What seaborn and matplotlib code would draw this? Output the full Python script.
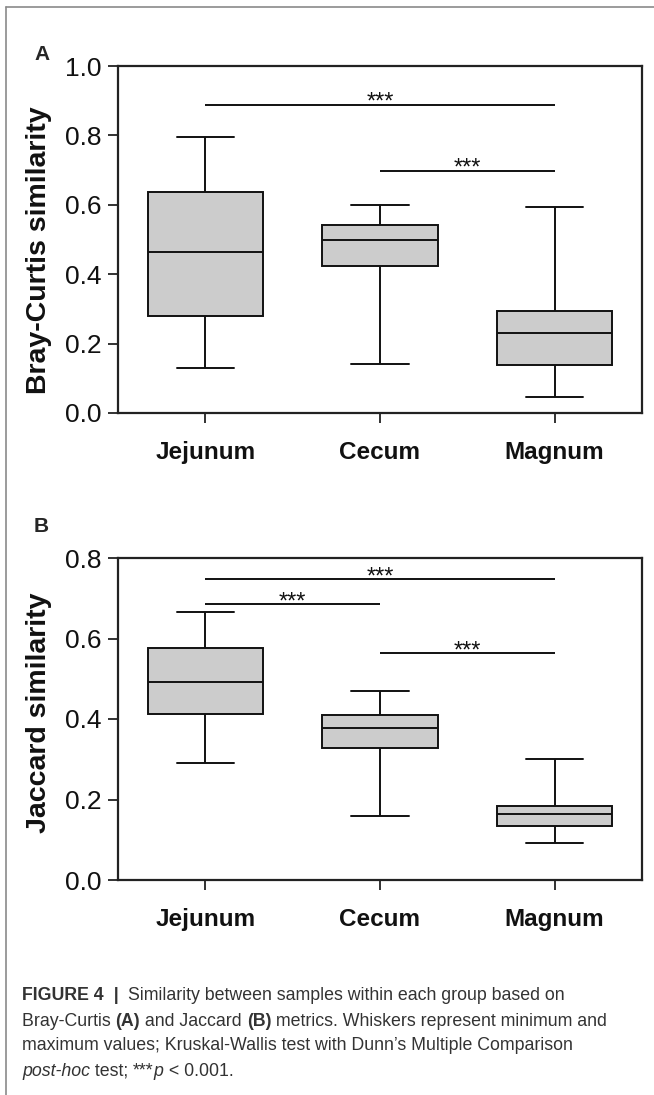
import matplotlib
matplotlib.use("Agg")
import matplotlib.pyplot as plt
import numpy as np
import pandas as pd
import seaborn as sns
from matplotlib.lines import Line2D

# groups
groups = ["Jejunum", "Cecum", "Magnum"]

# five-number summaries (min, q1, median, q3, max)
bray_jejunum = [0.13, 0.28, 0.465, 0.638, 0.795]
bray_cecum = [0.14, 0.425, 0.498, 0.543, 0.60]
bray_magnum = [0.045, 0.138, 0.23, 0.293, 0.593]

jac_jejunum = [0.29, 0.412, 0.492, 0.577, 0.667]
jac_cecum = [0.16, 0.328, 0.378, 0.41, 0.47]
jac_magnum = [0.092, 0.133, 0.163, 0.185, 0.30]

# significance brackets: (group from, group to, height)
bray_sig = [(0, 2, 0.888), (1, 2, 0.698)]
jac_sig = [(0, 2, 0.748), (0, 1, 0.685), (1, 2, 0.563)]

bray_ticks = [0.0, 0.2, 0.4, 0.6, 0.8, 1.0]
jac_ticks = [0.0, 0.2, 0.4, 0.6, 0.8]

sns.set_style("ticks")
plt.rcParams["font.family"] = ["Liberation Sans", "DejaVu Sans"]

W, H = 654, 1095
fig = plt.figure(figsize=(W / 100, H / 100), dpi=100)


def px_axes(left, top, right, bottom):
    return fig.add_axes([left / W, 1 - bottom / H, (right - left) / W, (bottom - top) / H])


def long_df(vals):
    rows = []
    for g, v in zip(groups, vals):
        for x in v:
            rows.append({"group": g, "value": x})
    return pd.DataFrame(rows)


def panel(ax, vals, sig, ticks, ylabel, label_y):
    df = long_df(vals)
    sns.boxplot(data=df, x="group", y="value", order=groups, ax=ax,
                color="#cccccc", saturation=1, width=0.66, whis=(0, 100),
                linecolor="#111111", linewidth=1.4, showfliers=False)
    ax.set_ylim(ticks[0], ticks[-1])
    ax.set_xlim(-0.5, 2.5)
    ax.set_yticks(ticks)
    ax.set_yticklabels([f"{t:.1f}" for t in ticks], fontsize=19, color="#111111")
    ax.set_xticks(range(len(groups)))
    ax.set_xticklabels(groups, fontsize=17.5, fontweight="bold", color="#111111")
    ax.tick_params(axis="both", length=7, width=1.3, color="#222222", pad=5)
    ax.tick_params(axis="x", pad=13)
    ax.set_xlabel("")
    ax.set_ylabel(ylabel, fontsize=20.5, fontweight="bold", color="#111111")
    ax.yaxis.set_label_coords(-0.125, label_y)
    for s in ax.spines.values():
        s.set_visible(True)
        s.set_linewidth(1.6)
        s.set_color("#222222")
    for a, b, h in sig:
        ax.plot([a, b], [h, h], color="#111111", lw=1.4, solid_capstyle="butt")
        ax.annotate("***", xy=((a + b) / 2, h), xytext=(0, -3),
                    textcoords="offset points", ha="center", va="baseline",
                    fontsize=17, color="#111111")


axA = px_axes(118, 66, 642, 413)
panel(axA, [bray_jejunum, bray_cecum, bray_magnum], bray_sig, bray_ticks,
      "Bray-Curtis similarity", 0.47)
axB = px_axes(118, 558, 642, 880)
panel(axB, [jac_jejunum, jac_cecum, jac_magnum], jac_sig, jac_ticks,
      "Jaccard similarity", 0.52)

fig.text(34 / W, 1 - 54 / H, "A", fontsize=15, fontweight="bold", ha="left", va="center")
fig.text(34 / W, 1 - 527 / H, "B", fontsize=15, fontweight="bold", ha="left", va="center")

# page frame lines
fig.add_artist(Line2D([6 / W, 6 / W], [0, 1 - 7 / H], transform=fig.transFigure,
                      color="#8a8a8a", lw=1.2))
fig.add_artist(Line2D([6 / W, 1], [1 - 7 / H, 1 - 7 / H], transform=fig.transFigure,
                      color="#8a8a8a", lw=1.2))

# caption
cap_col = "#333333"
cap_size = 12.8
caption = [
    [("FIGURE 4", "bold", "normal"), ("  |  ", "bold", "normal"),
     ("Similarity between samples within each group based on", "normal", "normal")],
    [("Bray-Curtis ", "normal", "normal"), ("(A)", "bold", "normal"),
     (" and Jaccard ", "normal", "normal"), ("(B)", "bold", "normal"),
     (" metrics. Whiskers represent minimum and", "normal", "normal")],
    [("maximum values; Kruskal-Wallis test with Dunn\u2019s Multiple Comparison",
      "normal", "normal")],
    [("post-hoc", "normal", "italic"), (" test; ", "normal", "normal"),
     ("***", "normal", "normal"), ("p", "normal", "italic"),
     (" < 0.001.", "normal", "normal")],
]
line_y = [996, 1021, 1046, 1071]
renderer = fig.canvas.get_renderer()
for segs, y in zip(caption, line_y):
    x = 22
    for txt, wt, st in segs:
        t = fig.text(x / W, 1 - y / H, txt, fontsize=cap_size, fontweight=wt,
                     fontstyle=st, color=cap_col, ha="left", va="center")
        bb = t.get_window_extent(renderer=renderer)
        x += bb.width

fig.savefig("out.png", dpi=100)
